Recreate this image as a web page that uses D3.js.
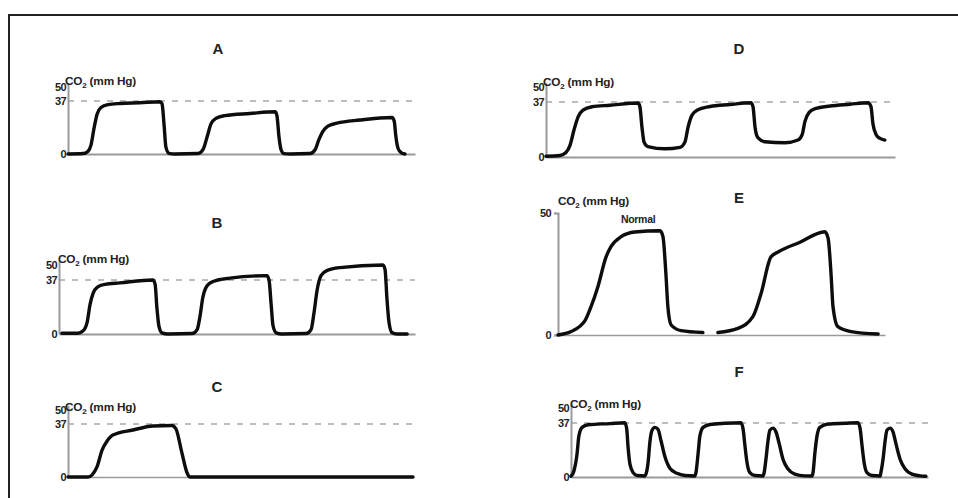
<!DOCTYPE html>
<html><head><meta charset="utf-8">
<script src="https://cdn.jsdelivr.net/npm/d3@7"></script>
<style>
html,body{margin:0;padding:0;background:#fff;}
svg{display:block;font-family:"Liberation Sans",Arial,sans-serif;}
</style></head><body>
<svg id="chart" width="958" height="498"></svg>
<script>
// ---------- DATA ----------
const panelNames = ["A", "B", "C", "D", "E", "F"];
const refLevel = 37;
const yTicksStd = [0, 37, 50];
const yTicksE = [0, 50];
const yLabelMain = "CO";
const yLabelSub = "2";
const yLabelUnit = " (mm Hg)";
const noteE = "Normal";

// time in % of recording window, CO2 in mm Hg
const timeA = [0, 4.3, 5.8, 6.6, 7.5, 8.4, 9.5, 11.5, 15, 20.7, 26.5, 27.1, 27.7, 28.2, 29.1, 30.8, 37.5, 38.9, 40.1, 41.2, 42.7, 45.2, 52.4, 59.7, 60.2, 60.8, 61.4, 62.2, 64, 69.7, 71.2, 72.3, 73.5, 74.9, 77.5, 84.1, 93.4, 94, 94.5, 95.1, 96, 97.1];
const co2A  = [0, 0.3, 2, 6, 18, 28, 32.5, 34.5, 35.3, 35.8, 36.5, 35, 20, 5, 0.5, 0, 0.3, 3, 12, 21, 25, 26.8, 28.3, 29.5, 27, 12, 3, 0.3, 0, 0.3, 3, 10, 16, 19.5, 21.5, 23.7, 25.5, 23, 12, 4, 1, 0];

const timeB = [0.8, 5.3, 6.7, 7.9, 8.7, 9.6, 10.7, 12.9, 17.1, 26.4, 27.0, 27.5, 28.1, 28.9, 30.6, 37.4, 38.8, 39.6, 40.4, 41.6, 43.3, 48.0, 58.4, 59.0, 59.6, 60.1, 61.0, 62.6, 69.4, 70.8, 71.6, 72.5, 73.6, 75.3, 78.9, 91.0, 91.6, 92.1, 92.7, 93.5, 94.9, 97.8];
const co2B  = [0.5, 0.5, 2, 8, 20, 28, 32, 34, 35, 37, 34, 18, 5, 0.8, 0, 0.3, 3, 12, 25, 33, 36, 38.3, 40, 37, 20, 6, 0.8, 0, 0.3, 3, 14, 30, 40, 43.5, 45.5, 47.3, 44, 25, 8, 1, 0, 0];

const timeC = [0, 5.8, 7.0, 8.4, 9.9, 11.3, 13.0, 18.8, 24.6, 30.1, 31.3, 33.0, 34.5, 35.4, 100];
const co2C  = [0, 0, 1.5, 7, 19, 25, 29.3, 32.8, 35.6, 36, 33.5, 17, 3, 0, 0];

const timeD = [0, 4.0, 5.7, 6.9, 8.0, 9.2, 10.6, 13.2, 18.3, 26.4, 26.9, 27.5, 28.1, 29.2, 34.1, 38.4, 39.8, 40.7, 41.8, 43.3, 47.0, 52.7, 58.7, 59.3, 59.9, 60.7, 62.7, 68.5, 72.2, 73.4, 74.2, 75.4, 77.1, 81.4, 87.1, 92.3, 93.1, 93.7, 94.6, 95.7, 97.1];
const co2D  = [0.5, 1, 3, 8, 18, 27, 31.5, 33.8, 34.8, 36.3, 34, 20, 10, 7, 5.5, 6.5, 10, 20, 28, 31.5, 34, 35.3, 36.5, 34, 20, 13, 10.3, 9.6, 11.4, 15, 24, 30, 32.5, 34.3, 35.5, 36.5, 34, 22, 15, 12.5, 11.4];

const timeE = [0, 4.0, 8.3, 10.1, 12.2, 14.7, 16.2, 19.3, 23.5, 31.2, 32.1, 33.0, 33.6, 34.6, 37.6, 44.3, 46.5, 48.9, 55.0, 59.6, 62.1, 65.1, 67.3, 74.0, 81.6, 82.6, 83.5, 84.1, 85.6, 89.6, 97.9];
const co2E  = [0, 1.4, 6, 11.6, 19.8, 32, 36.2, 40.3, 42.2, 42.7, 40.3, 25, 11.6, 4.1, 1.8, 1, null, 1, 2.7, 7.5, 17, 32, 34, 38, 42.3, 39.7, 25, 11.6, 3.4, 1.4, 0.4];

const timeF = [0, 0.8, 1.7, 2.2, 3.1, 4.8, 10.9, 15.1, 15.6, 16.0, 16.5, 17.4, 18.5, 20.7, 21.0, 21.6, 22.1, 22.7, 23.5, 24.4, 25.2, 26.3, 27.7, 29.7, 31.9, 34.7, 35.0, 35.6, 36.1, 37.0, 38.9, 43.1, 47.6, 48.2, 48.7, 49.3, 50.1, 51.5, 53.8, 54.1, 54.6, 55.2, 55.7, 56.6, 57.4, 58.3, 59.4, 60.8, 62.7, 65.5, 67.5, 67.8, 68.3, 68.9, 69.7, 72.0, 76.8, 80.4, 81.0, 81.5, 82.1, 82.9, 84.3, 86.6, 86.8, 87.4, 88.0, 88.5, 89.4, 90.2, 91.0, 92.2, 93.6, 95.5, 97.8, 99.4];
const co2F  = [0.5, 4, 16, 28, 34, 35.8, 36.6, 37.2, 33, 20, 9, 3, 1, 0.7, 2, 10, 24, 32, 34, 32.5, 25, 14, 6, 2.5, 1, 0.7, 3, 16, 28, 34, 36, 36.8, 37.2, 33, 22, 10, 3, 1, 0.7, 3, 12, 25, 32, 33.5, 31, 23, 12, 5.5, 2, 0.8, 0.7, 3, 16, 28, 34, 36.3, 36.8, 37.2, 33, 22, 10, 3, 1, 0.7, 3, 12, 25, 32, 33.5, 31, 23, 12, 5.5, 2, 0.8, 0.5];

// ---------- LAYOUT ----------
const layout = [
  {name: panelNames[0], t: timeA, v: co2A, ticks: yTicksStd, ref: true,  x0: 68,  x1: 415, y0: 154, y37: 101, title: [218, 48],  lab: [-3, 3]},
  {name: panelNames[1], t: timeB, v: co2B, ticks: yTicksStd, ref: true,  x0: 59,  x1: 415, y0: 334, y37: 280, title: [217, 222], lab: [-1, 2]},
  {name: panelNames[2], t: timeC, v: co2C, ticks: yTicksStd, ref: true,  x0: 68,  x1: 413, y0: 477, y37: 424, title: [217, 386], lab: [-3, 6]},
  {name: panelNames[3], t: timeD, v: co2D, ticks: yTicksStd, ref: true,  x0: 546, x1: 895, y0: 157, y37: 102, title: [739, 48],  lab: [-3, 3]},
  {name: panelNames[4], t: timeE, v: co2E, ticks: yTicksE,   ref: false, x0: 558, x1: 885, y0: 335, y50: 213, title: [739, 197], lab: [0, -8]},
  {name: panelNames[5], t: timeF, v: co2F, ticks: yTicksStd, ref: true,  x0: 571, x1: 928, y0: 477, y37: 423, title: [739, 371], lab: [-1, 4]}
];

const svg = d3.select("#chart");
svg.append("rect").attr("width", 958).attr("height", 498).attr("fill", "#fff");

// frame
svg.append("path").attr("d", "M958,15H9V498").attr("fill", "none")
  .attr("stroke", "#222").attr("stroke-width", 2);

const textColor = "#222";

layout.forEach(p => {
  const y50 = p.y50 !== undefined ? p.y50 : p.y0 - 50 * (p.y0 - p.y37) / refLevel;
  const x = d3.scaleLinear().domain([0, 100]).range([p.x0, p.x1]);
  const y = d3.scaleLinear().domain([0, 50]).range([p.y0, y50]);
  const g = svg.append("g");

  // reference dashed line
  if (p.ref) {
    g.append("line")
      .attr("x1", x(0)).attr("x2", x(100))
      .attr("y1", y(refLevel)).attr("y2", y(refLevel))
      .attr("stroke", "#a8a8a8").attr("stroke-width", 1.6)
      .attr("stroke-dasharray", "6,7");
  }

  // x baseline axis
  const xAx = g.append("g").attr("transform", `translate(0,${p.y0})`)
    .call(d3.axisBottom(x).tickValues([]).tickSizeOuter(0));
  xAx.select(".domain").attr("stroke", "#9a9a9a").attr("stroke-width", p.name === "C" || p.name === "E" ? 1.6 : 2.2);

  // y axis
  const yAx = g.append("g").attr("transform", `translate(${p.x0},0)`)
    .call(d3.axisLeft(y).tickValues(p.ticks).tickSizeOuter(0)
      .tickSize(p.name === "E" ? 4 : 0).tickPadding(p.name === "E" ? 3 : 2));
  yAx.select(".domain").attr("stroke", "#9a9a9a").attr("stroke-width", 2);
  yAx.selectAll(".tick line").attr("stroke", "#9a9a9a").attr("stroke-width", 1.5);
  yAx.selectAll(".tick text")
    .attr("font-family", '"Liberation Sans",Arial,sans-serif')
    .attr("font-size", 11).attr("font-weight", "bold").attr("fill", textColor)
    .attr("letter-spacing", -0.6)
    .attr("dy", d => (d === 50 && p.name !== "E") ? "0.72em" : "0.35em");

  // y-axis title CO2 (mm Hg)
  const lab = g.append("text")
    .attr("x", p.x0 + p.lab[0]).attr("y", y50 + p.lab[1])
    .attr("font-size", 11.8).attr("font-weight", "bold").attr("fill", textColor)
    .attr("letter-spacing", -0.2);
  lab.append("tspan").text(yLabelMain);
  lab.append("tspan").attr("dy", 3).attr("font-size", 8).text(yLabelSub);
  lab.append("tspan").attr("dy", -3).text(yLabelUnit);

  // panel title
  g.append("text").attr("x", p.title[0]).attr("y", p.title[1])
    .attr("text-anchor", "middle").attr("dominant-baseline", "central")
    .attr("font-size", 15).attr("font-weight", "bold").attr("fill", textColor)
    .text(p.name);

  // capnogram trace
  const pts = p.t.map((t, i) => ({t: t, v: p.v[i]}));
  const line = d3.line()
    .defined(d => d.v !== null)
    .x(d => x(d.t)).y(d => y(d.v))
    .curve(d3.curveMonotoneX);
  g.append("path").datum(pts)
    .attr("d", line)
    .attr("fill", "none").attr("stroke", "#0d0d0d")
    .attr("stroke-width", 3.4)
    .attr("stroke-linejoin", "round").attr("stroke-linecap", "round");

  if (p.name === "E") {
    g.append("text").attr("x", x(24.5)).attr("y", y(46))
      .attr("text-anchor", "middle")
      .attr("font-size", 10.5).attr("font-weight", "bold").attr("fill", textColor)
      .attr("letter-spacing", -0.3)
      .text(noteE);
  }
});
</script>
</body></html>
